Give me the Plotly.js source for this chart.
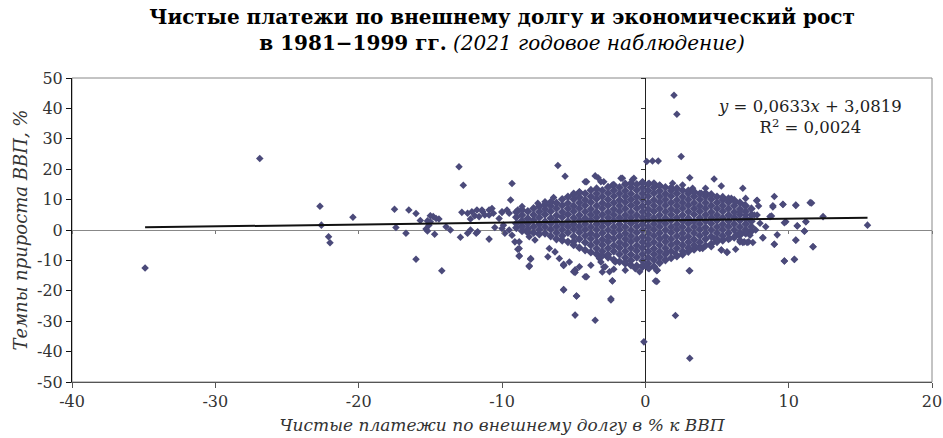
<!DOCTYPE html>
<html>
<head>
<meta charset="utf-8">
<script src="https://cdn.plot.ly/plotly-3.0.1.min.js"></script>
<style>html,body{margin:0;padding:0;background:#fff;}#chart{width:943px;height:438px;}</style>
</head>
<body>
<div id="chart"></div>
<script>
// ---- axis ticks ----
const xTickVals = [-40, -30, -20, -10, 0, 10, 20];
const xTickText = ['-40', '-30', '-20', '-10', '0', '10', '20'];
const yTickVals = [-50, -40, -30, -20, -10, 0, 10, 20, 30, 40, 50];
const yTickText = ['-50', '-40', '-30', '-20', '-10', '0', '10', '20', '30', '40', '50'];

// ---- regression (from the chart's equation) ----
const slope = 0.0633;
const intercept = 3.0819;
const rSquared = '0,0024';

// ---- isolated points [x, y] ----
const outlierPts = [
  [-34.9,-12.5],[-26.9,23.5],[-22.7,7.8],[-22.6,1.6],[-22.1,-2.2],[-22.0,-4.2],[-20.4,4.2],
  [-17.5,6.8],[-17.4,0.8],[-16.5,6.6],[-16.7,-1.1],[-16.0,5.4],[-16.0,-9.6],[-15.7,3.1],
  [-15.2,3.0],[-15.0,4.7],[-14.8,4.4],[-14.6,3.8],[-14.4,3.6],[-15.1,1.6],[-15.2,-0.3],
  [-14.7,-1.4],[-15.3,0.3],[-15.0,2.7],[-14.2,-13.4],[-13.9,1.1],[-13.6,0.0],[-13.0,20.8],
  [-12.7,14.7],[-12.8,5.8],[-12.9,-2.4],[-12.4,-1.1],[-11.8,-1.1],[-10.9,-3.0],[-10.5,0.8],
  [-9.3,15.3],[-9.4,9.9],[-6.1,21.2],[-5.6,17.7],[-5.7,-19.7],[-4.8,-21.7],[-8.1,-12.0],
  [-8.0,-9.6],[-8.8,-8.6],[-8.9,-6.3],[-5.7,-11.7],[-4.9,-28.0],[-3.5,-29.7],[-2.4,-23.0],
  [-2.3,-16.8],[-4.1,-15.4],[-4.9,-14.0],[-4.9,-13.2],[-2.9,-12.2],[-0.1,-36.8],[2.1,-28.1],
  [3.1,-42.2],[3.1,-13.4],[0.8,-16.9],[0.8,-13.4],[2.0,44.3],[2.2,38.1],[2.5,24.2],
  [0.1,22.5],[0.5,22.7],[0.9,22.7],[3.1,17.2],[4.8,16.8],[5.3,14.5],[6.8,13.7],[9.0,11.0],
  [11.6,8.9],[10.5,8.1],[9.6,8.4],[8.9,7.6],[7.8,9.8],[7.9,7.9],[12.4,4.4],[15.5,1.6],
  [11.2,2.7],[10.6,1.3],[11.1,-0.3],[10.5,-3.4],[11.7,-5.5],[10.4,-9.7],[9.7,-10.2],
  [9.2,-1.6],[9.0,-4.7],[9.8,2.7],[8.7,4.4],[8.2,-2.5],[7.2,-3.9],[6.9,-3.9],[6.6,-3.9],
  [5.7,-7.4],[5.3,-6.6],[4.0,-6.1],[4.8,-2.8]
];

// ---- left band of points near -12 .. -9 ----
const leftBandPts = [
  [-12.4,5.5],[-12.1,6.0],[-11.75,6.6],[-11.35,6.0],[-10.9,6.6],[-10.6,5.5],[-11.2,4.9],
  [-11.9,4.7],[-12.2,3.6],[-10.0,6.0],[-9.65,6.6],[-9.9,1.6],[-9.5,0.0],[-9.3,-1.7],
  [-9.1,-3.9],[-8.7,2.7],[-11.4,6.6],[-10.7,7.1],[-10.0,5.8],[-11.6,4.4],[-10.9,4.9],
  [-10.2,3.8],[-9.5,5.5],[-8.9,6.6],[-12.2,0.0],[-11.7,-0.6],[-10.0,0.5],[-9.8,-1.1]
];

// ---- ragged edge of the dense cloud ----
const fringePts = [
  [-4.1,15.9],[-3.3,17.2],[-2.9,15.9],[-1.7,17.0],[-1.4,15.4],[-0.9,16.5],[-0.2,15.4],
  [-5.0,12.1],[-4.6,12.6],[-6.4,10.7],[-7.0,9.3],[-7.5,8.8],[-8.6,7.7],[-8.8,-3.9],
  [-8.8,-6.1],[-8.8,-8.5],[-8.0,-9.4],[-8.1,-11.8],[-8.1,-2.2],[-7.7,-3.3],[-6.7,-6.1],
  [-6.3,-7.2],[-6.8,-8.8],[-5.7,-11.6],[-4.9,-13.2],[-4.2,-15.4],[-5.7,-19.6],[-4.8,-21.7],
  [-2.3,-16.7],[-2.4,-22.6],[-6.0,-9.4],[-5.3,-10.5],[-4.6,-12.1],[-3.8,-11.6],[-3.1,-10.5],
  [-2.8,-12.1],[-2.1,-10.5],[-1.4,-13.2],[-0.7,-12.7],[-0.2,-11.6],[-3.0,-13.8],[-2.2,-12.9],
  [7.76,9.6],[9.6,8.5],[10.5,8.2],[11.5,9.0],[8.9,8.0],[8.8,4.6],[7.8,4.9],[7.6,4.9],
  [9.7,2.4],[10.6,1.4],[11.2,2.7],[11.1,-0.4],[10.5,-3.3],[9.0,-4.7],[11.7,-5.5],[9.7,-10.2],
  [10.4,-9.6],[8.2,-2.6],[7.5,-4.1],[7.1,-4.1],[6.8,-4.1],[6.3,-6.3],[5.7,-7.2],[5.3,-6.6],
  [4.6,-5.5],[3.06,-13.4],[0.7,-16.8],[0.84,-13.2],[0.03,-11.6],[2.1,-7.7],[3.06,-6.6],
  [3.8,-6.1],[1.5,-7.2],[4.2,13.7],[3.9,12.1],[3.3,13.7],[2.6,14.8],[1.9,15.4],[1.0,14.8],
  [0.26,15.4],[-0.2,15.9],[6.0,10.4],[6.3,9.3],[7.0,10.4],[6.9,8.2],[6.6,6.0],[7.0,4.9],
  [7.3,3.3],[8.0,2.2],[8.4,1.1],[7.7,0.0],[7.0,-0.6],[6.3,-1.7],[5.9,-2.8],[7.3,-1.7],
  [6.6,-3.3],[-3.5,17.8],[-1.6,17.0],[-0.8,17.0],[-4.2,15.9],[-3.1,15.9],[-2.3,14.8],
  [-5.7,-11.3],[-5.0,-13.7],[-3.2,-9.4],[-2.5,-13.7],[-1.4,-10.5],[-0.4,-13.7],[0.26,-12.7]
];

// ---- dense core, estimated column by column (x and the y values seen in that column) ----
const coreColX = [-9.0,-8.6,-8.2,-7.8,-7.4,-7.0,-6.6,-6.2,-5.8,-5.4,-5.0,-4.6,-4.2,-3.8,-3.4,-3.0,
  -2.6,-2.2,-1.8,-1.4,-1.0,-0.6,-0.2,0.2,0.6,1.0,1.4,1.8,2.2,2.6,3.0,3.4,3.8,4.2,4.6,5.0,5.4,5.8,
  6.2,6.6,7.0,7.4];
const coreColY = [
  [0.7,2.1,4.2,5.9],
  [-0.3,1.2,3.0,4.9,6.6],
  [-0.8,0.3,2.1,3.8,6.1],
  [-0.9,1.1,3.2,5.0,7.1],
  [-1.4,0.1,1.9,4.1,6.0,7.8],
  [-1.1,1.0,2.8,5.1,6.9,8.4],
  [-2.0,0.2,2.1,3.9,6.1,7.9,9.2],
  [-3.0,-0.9,1.1,3.0,4.8,7.1,8.9],
  [-3.4,-1.9,0.1,2.0,4.2,5.9,8.1,10.1],
  [-3.9,-0.9,1.1,2.9,5.1,7.0,8.8,10.9],
  [-4.9,-3.8,-2.1,0.2,1.9,4.0,6.1,7.9,10.1,11.6],
  [-5.8,-3.0,-0.8,1.1,3.1,4.9,7.1,9.0,10.8,12.3],
  [-6.6,-4.1,-1.9,0.1,2.0,3.9,6.0,8.1,9.9,12.0],
  [-7.3,-5.0,-2.9,-1.1,1.0,3.2,5.0,6.9,9.1,11.0,13.1],
  [-7.9,-6.1,-4.0,-1.9,0.1,2.0,4.1,5.9,8.0,10.2,12.0,13.6],
  [-8.4,-7.0,-4.9,-3.1,-1.0,1.1,2.9,5.0,7.1,8.9,11.0,13.0],
  [-9.0,-8.1,-6.0,-3.9,-2.1,0.0,2.1,4.0,5.9,8.1,10.0,12.1,14.1],
  [-9.8,-7.0,-5.1,-2.9,-0.9,1.0,3.1,5.0,6.9,9.0,11.1,13.0,14.8],
  [-10.4,-8.0,-5.9,-4.1,-2.0,0.1,1.9,4.0,6.1,8.0,9.9,12.0,14.0],
  [-11.0,-9.1,-7.0,-4.9,-3.0,-1.1,1.0,3.1,4.9,7.0,9.1,11.0,12.9,15.0],
  [-11.6,-10.0,-8.1,-6.0,-3.9,-2.0,0.0,2.1,4.0,5.9,8.1,10.0,11.9,14.0,15.4],
  [-11.8,-9.0,-6.9,-5.1,-3.0,-0.9,1.1,3.0,4.9,7.1,9.0,10.9,13.1,15.0],
  [-12.1,-10.1,-8.0,-5.9,-4.0,-2.1,0.0,1.9,4.1,6.0,7.9,10.1,12.0,13.9,15.5],
  [-12.4,-11.0,-9.1,-7.0,-4.9,-3.0,-1.0,1.0,3.1,5.0,6.9,9.0,11.1,13.0,15.0],
  [-12.0,-9.9,-8.0,-6.1,-4.0,-1.9,0.1,2.0,4.0,6.1,8.0,9.9,12.1,14.0,15.3],
  [-10.8,-9.0,-7.1,-5.0,-2.9,-1.0,1.1,3.0,4.9,7.0,9.1,11.0,12.9,14.5],
  [-9.9,-8.0,-6.0,-3.9,-2.1,0.0,2.1,3.9,6.0,8.1,10.0,11.9,14.0],
  [-9.2,-7.0,-4.9,-3.0,-0.9,1.0,3.1,5.0,6.9,9.0,11.1,12.9,13.9],
  [-8.6,-6.0,-4.1,-2.0,0.1,1.9,4.0,6.1,8.0,9.9,12.0,13.7],
  [-8.0,-7.0,-5.0,-2.9,-1.1,1.0,3.0,4.9,7.1,9.0,10.9,13.0],
  [-7.1,-5.9,-4.0,-2.1,0.0,2.1,3.9,6.0,8.1,10.0,12.0,12.9],
  [-6.4,-5.0,-3.1,-1.0,1.0,2.9,5.1,7.0,8.9,11.0,12.6],
  [-5.7,-4.0,-1.9,0.1,2.0,4.0,6.1,7.9,10.0,11.9],
  [-5.1,-3.0,-1.0,0.9,3.0,5.0,7.1,9.0,11.0,12.1],
  [-4.6,-2.1,0.0,2.1,4.0,5.9,8.0,10.1,11.7],
  [-3.9,-3.0,-1.0,1.0,3.1,4.9,7.0,9.0,10.9],
  [-3.4,-1.9,0.1,1.9,4.0,6.1,8.0,9.9,10.8],
  [-2.9,-1.0,1.1,3.0,4.9,7.0,9.1,10.3],
  [-2.4,0.0,2.0,4.1,5.9,8.0,9.8],
  [-1.7,-0.9,1.0,3.1,5.0,6.9,9.0],
  [-1.1,0.1,2.0,3.9,6.1,8.0],
  [-0.4,1.1,2.9,5.0,7.0]
];

// ---- assemble ----
const sx = [], sy = [];
[outlierPts, leftBandPts, fringePts].forEach(arr => arr.forEach(p => { sx.push(p[0]); sy.push(p[1]); }));
const cx = [], cy = [];
coreColX.forEach((x0, i) => coreColY[i].forEach(v => { cx.push(x0); cy.push(v); }));

const allX = sx.concat(cx);
const xMin = Math.min(...allX), xMax = Math.max(...allX);
const trendX = [xMin, xMax];
const trendY = trendX.map(v => slope * v + intercept);

const serif = 'DejaVu Serif, Liberation Serif, serif';
const dotColor = '#4b4a7a';

const traces = [
  {type:'scatter', mode:'markers', x:cx, y:cy, hoverinfo:'skip',
   marker:{symbol:'diamond', size:6.7, color:dotColor, line:{width:0}}},
  {type:'scatter', mode:'markers', x:sx, y:sy, hoverinfo:'skip',
   marker:{symbol:'diamond', size:5.8, color:dotColor, line:{width:0}}},
  {type:'scatter', mode:'lines', x:trendX, y:trendY, xaxis:'x2', yaxis:'y2', hoverinfo:'skip',
   line:{color:'#111', width:2}}
];

const layout = {
  width:943, height:438,
  margin:{l:72, r:11, t:78, b:56},
  paper_bgcolor:'#fff', plot_bgcolor:'#fff',
  showlegend:false,
  font:{family:serif, color:'#333'},
  title:{
    text:'<b>Чистые платежи по внешнему долгу и экономический рост</b><br><b>в 1981−1999 гг.</b> <i>(2021 годовое наблюдение)</i>',
    x:0.5, xanchor:'center', xref:'paper', y:0.945, yanchor:'top', yref:'container',
    font:{family:serif, size:20, color:'#000'}
  },
  xaxis:{
    range:[-40,20], tickvals:xTickVals, ticktext:xTickText, showgrid:false,
    zeroline:true, zerolinecolor:'#222', zerolinewidth:1,
    showline:true, linecolor:'#555', linewidth:1,
    ticks:'outside', ticklen:5, tickcolor:'#555', tickwidth:1,
    tickfont:{family:serif, size:16, color:'#333'},
    title:{text:'Чистые платежи по внешнему долгу в % к ВВП', standoff:8,
      font:{family:serif, size:17, style:'italic', color:'#333'}}
  },
  yaxis:{
    range:[-50,50], tickvals:yTickVals, ticktext:yTickText, showgrid:false,
    zeroline:true, zerolinecolor:'#888', zerolinewidth:1,
    showline:true, linecolor:'#111', linewidth:1,
    ticks:'outside', ticklen:5, tickcolor:'#111', tickwidth:1,
    tickfont:{family:serif, size:16, color:'#333'},
    title:{text:'Темпы прироста ВВП, %', standoff:4,
      font:{family:serif, size:18, style:'italic', color:'#333'}}
  },
  xaxis2:{
    overlaying:'x', anchor:'free', position:0.5, side:'bottom',
    range:[-40,20], tickvals:xTickVals, showticklabels:false, showgrid:false,
    zeroline:false, showline:false, ticks:'outside', ticklen:3, tickcolor:'#777'
  },
  yaxis2:{
    overlaying:'y', anchor:'free', position:40/60, side:'left',
    range:[-50,50], tickvals:yTickVals, showticklabels:false, showgrid:false,
    zeroline:false, showline:false, ticks:'outside', ticklen:4, tickcolor:'#333'
  },
  shapes:[
    {type:'rect', xref:'paper', yref:'paper', x0:0, x1:1, y0:0, y1:1,
     line:{color:'#888', width:1}, layer:'below'}
  ],
  annotations:[
    {xref:'paper', yref:'paper', x:0.858, y:0.873, xanchor:'center', yanchor:'middle',
     showarrow:false, align:'center',
     text:'<i>y</i> = 0,0633<i>x</i> + 3,0819<br>R<sup>2</sup> = ' + rSquared,
     font:{family:serif, size:16.5, color:'#222'}}
  ]
};

Plotly.newPlot('chart', traces, layout, {displayModeBar:false, staticPlot:true});
</script>
</body>
</html>
